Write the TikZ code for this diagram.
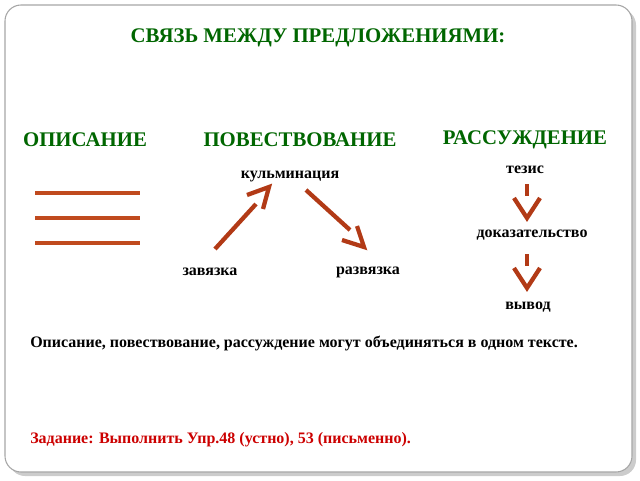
\documentclass[tikz,border=0pt]{standalone}
\usepackage{fontspec}
\setmainfont{Liberation Serif}
\begin{document}
\begin{tikzpicture}[x=0.75pt,y=-0.75pt,
  txt/.style={font=\bfseries\fontsize{12}{14}\selectfont, inner sep=0},
  head/.style={font=\bfseries\fontsize{15.6}{18}\selectfont, text=green!40!black, inner sep=0},
  arr/.style={draw=arrowc, line width=3.2pt},
  bar/.style={draw=barc, line width=3.5pt}]
\definecolor{arrowc}{HTML}{B23A16}
\definecolor{barc}{HTML}{C04A1E}
\useasboundingbox (0,0) rectangle (640,480);
\fill[gray!40, rounded corners=12pt] (9,9) rectangle (636,476);
\draw[gray!70, fill=white, line width=0.8pt, rounded corners=12pt] (5,5) rectangle (632,472);
\node[head] (t) at (318,38) {СВЯЗЬ МЕЖДУ ПРЕДЛОЖЕНИЯМИ:};
\node[head] (h1) at (85,140) {ОПИСАНИЕ};
\node[head] (h2) at (300,140) {ПОВЕСТВОВАНИЕ};
\node[head] (h3) at (525,140) {РАССУЖДЕНИЕ};
\draw[bar] (35,193) -- (140,193);
\draw[bar] (35,218) -- (140,218);
\draw[bar] (35,243) -- (140,243);
\node[txt] (k) at (290,176) {кульминация};
\node[txt] (z) at (210,272) {завязка};
\node[txt] (r) at (368,272) {развязка};
\node[txt] (te) at (525,170) {тезис};
\node[txt] (d) at (532,235) {доказательство};
\node[txt] (v) at (528,307) {вывод};
\draw[arr] (215,249) -- (256,204);
\draw[arr, line join=miter] (247,195) -- (269,187) -- (263,209);
\draw[arr] (306,190) -- (350,230);
\draw[arr, line join=miter] (342,240) -- (364,247) -- (357,226);
\draw[arr] (527,184) -- (527,196);
\draw[arr, line join=miter] (514,198) -- (527,218) -- (540,198);
\draw[arr] (527,254) -- (527,266);
\draw[arr, line join=miter] (514,268) -- (527,288) -- (540,268);
\node[txt, anchor=west] (s) at (30,343) {Описание, повествование, рассуждение могут объединяться в одном тексте.};
\node[txt, anchor=west, text=red!80!black] (task) at (30,440) {Задание: Выполнить Упр.48 (устно), 53 (письменно).};
\end{tikzpicture}
\end{document}
